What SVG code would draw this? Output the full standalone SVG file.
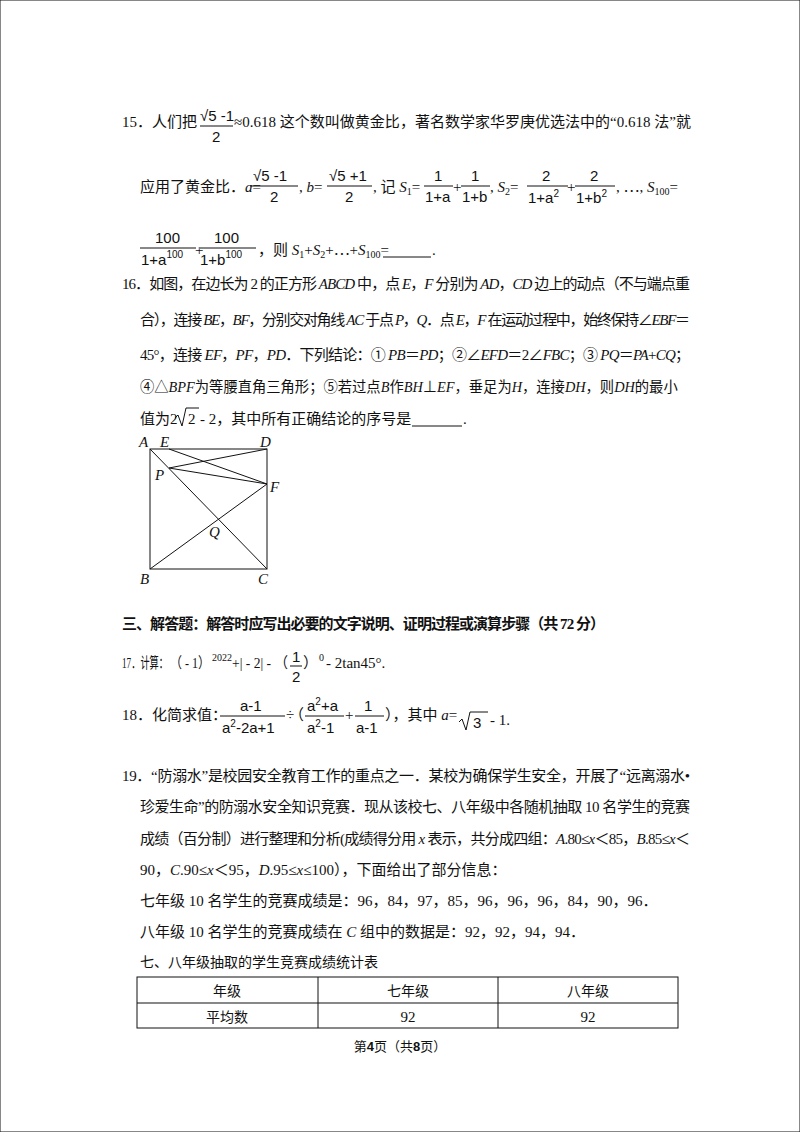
<svg xmlns="http://www.w3.org/2000/svg" width="800" height="1132" viewBox="0 0 800 1132">
<style>
text{font-family:"Liberation Serif","Noto Sans CJK SC",serif;font-size:15px;fill:#111}
.s{font-family:"Liberation Sans","Noto Sans CJK SC",sans-serif}
.i{font-style:italic}
.b{font-weight:bold}
.m{font-family:"Liberation Sans",sans-serif;font-size:15px}
.sm{font-size:10px}
.t14{font-size:14px}
.t13{font-size:13px}
line,path,rect{stroke:#111;stroke-width:1;fill:none}
</style>
<rect x="0" y="0" width="800" height="1132" fill="#fff" stroke="none"/>
<g id="q15">
<text x="122" y="127">15．人们把</text>
<text class="m" x="200" y="121">√5 -1</text><line x1="200" y1="126" x2="233" y2="126"/><text class="m" x="212" y="142">2</text>
<text x="234" y="127" textLength="457" lengthAdjust="spacing">≈0.618 这个数叫做黄金比，著名数学家华罗庚优选法中的“0.618 法”就</text>
<text x="140" y="192">应用了黄金比．<tspan class="i">a</tspan>=</text>
<text class="m" x="253" y="181">√5 -1</text><line x1="250" y1="186" x2="298" y2="186"/><text class="m" x="270" y="202">2</text>
<text x="299" y="192">, <tspan class="i">b</tspan>=</text>
<text class="m" x="329" y="181">√5 +1</text><line x1="327" y1="186" x2="372" y2="186"/><text class="m" x="345" y="202">2</text>
<text x="373" y="192">, 记 <tspan class="i">S</tspan><tspan class="sm" dy="3">1</tspan><tspan dy="-3">=</tspan></text>
<text class="m" x="434" y="181">1</text><line x1="424" y1="186" x2="453" y2="186"/><text class="m" x="425" y="202">1+a</text>
<text x="453" y="192">+</text>
<text class="m" x="471" y="181">1</text><line x1="461" y1="186" x2="490" y2="186"/><text class="m" x="462" y="202">1+b</text>
<text x="490" y="192">, <tspan class="i">S</tspan><tspan class="sm" dy="3">2</tspan><tspan dy="-3">=</tspan></text>
<text class="m" x="542" y="181">2</text><line x1="527" y1="186" x2="568" y2="186"/><text class="m" x="528" y="203">1+a<tspan class="sm" dy="-6">2</tspan></text>
<text x="567" y="192">+</text>
<text class="m" x="590" y="181">2</text><line x1="575" y1="186" x2="615" y2="186"/><text class="m" x="576" y="203">1+b<tspan class="sm" dy="-6">2</tspan></text>
<text x="616" y="192">, ⋯, <tspan class="i">S</tspan><tspan class="sm" dy="3">100</tspan><tspan dy="-3">=</tspan></text>
<text class="m" x="155" y="243">100</text><line x1="140" y1="248" x2="196" y2="248"/><text class="m" x="141" y="265">1+a<tspan class="sm" dy="-7">100</tspan></text>
<text x="195" y="255">+</text>
<text class="m" x="214" y="243">100</text><line x1="200" y1="248" x2="256" y2="248"/><text class="m" x="200" y="265">1+b<tspan class="sm" dy="-7">100</tspan></text>
<text x="258" y="255">，则 <tspan class="i">S</tspan><tspan class="sm" dy="3">1</tspan><tspan dy="-3">+</tspan><tspan class="i">S</tspan><tspan class="sm" dy="3">2</tspan><tspan dy="-3">+⋯+</tspan><tspan class="i">S</tspan><tspan class="sm" dy="3">100</tspan><tspan dy="-3">=</tspan></text>
<line x1="383" y1="257" x2="431" y2="257"/><text x="432" y="255">.</text>
</g>
<g id="q16">
<text x="122" y="289" textLength="568" lengthAdjust="spacing">16．如图，在边长为 2 的正方形 <tspan class="i">ABCD</tspan> 中，点 <tspan class="i">E</tspan>，<tspan class="i">F</tspan> 分别为 <tspan class="i">AD</tspan>，<tspan class="i">CD</tspan> 边上的动点（不与端点重</text>
<text x="140" y="325" textLength="550" lengthAdjust="spacing">合），连接 <tspan class="i">BE</tspan>，<tspan class="i">BF</tspan>，分别交对角线 <tspan class="i">AC</tspan> 于点 <tspan class="i">P</tspan>，<tspan class="i">Q</tspan>．点 <tspan class="i">E</tspan>，<tspan class="i">F</tspan> 在运动过程中，始终保持∠<tspan class="i">EBF</tspan>＝</text>
<text x="140" y="360" textLength="550" lengthAdjust="spacing">45°，连接 <tspan class="i">EF</tspan>，<tspan class="i">PF</tspan>，<tspan class="i">PD</tspan>．下列结论：① <tspan class="i">PB</tspan>＝<tspan class="i">PD</tspan>；②∠<tspan class="i">EFD</tspan>＝2∠<tspan class="i">FBC</tspan>；③ <tspan class="i">PQ</tspan>＝<tspan class="i">PA</tspan>+<tspan class="i">CQ</tspan>；</text>
<text x="140" y="392" style="font-size:14.3px">④△<tspan class="i">BPF</tspan>为等腰直角三角形；⑤若过点<tspan class="i">B</tspan>作<tspan class="i">BH</tspan>⊥<tspan class="i">EF</tspan>，垂足为<tspan class="i">H</tspan>，连接<tspan class="i">DH</tspan>，则<tspan class="i">DH</tspan>的最小</text>
<text x="140" y="424">值为2</text>
<path d="M175 418 L178 415 L182 426 L186 408 L199 408"/>
<text x="188" y="424">2</text>
<text x="200" y="424"> - 2，其中所有正确结论的序号是</text>
<line x1="412" y1="426" x2="462" y2="426"/><text x="463" y="424">.</text>
</g>
<g id="figure">
<rect x="150" y="449" width="117" height="120"/>
<line x1="150" y1="449" x2="267" y2="569"/>
<line x1="169" y1="449" x2="267" y2="484"/>
<line x1="169" y1="468" x2="267" y2="449"/>
<line x1="169" y1="468" x2="267" y2="484"/>
<line x1="150" y1="569" x2="267" y2="484"/>
<g class="i"><text x="139" y="447">A</text><text x="160" y="447">E</text><text x="260" y="447">D</text><text x="155" y="480">P</text><text x="270" y="492">F</text><text x="209" y="537">Q</text><text x="140" y="584">B</text><text x="258" y="584">C</text></g>
</g>
<g id="q17">
<text x="122" y="629" class="b" textLength="483" lengthAdjust="spacing">三、解答题：解答时应写出必要的文字说明、证明过程或演算步骤（共 72 分）</text>
<text x="122" y="668" textLength="46" lengthAdjust="spacingAndGlyphs">17．计算：</text>
<text x="170" y="668" textLength="40" lengthAdjust="spacingAndGlyphs">（ - 1）</text>
<text x="212" y="661" class="sm">2022</text>
<text x="232" y="668" textLength="56" lengthAdjust="spacingAndGlyphs">+| - 2| - （</text>
<text class="m" x="292" y="662">1</text><line x1="290" y1="666" x2="302" y2="666"/><text class="m" x="292" y="682">2</text>
<text x="303" y="668">）</text>
<text x="319" y="661" class="sm">0</text>
<text x="326" y="668"> - 2tan45°.</text>
</g>
<g id="q18">
<text x="122" y="720">18．化简求值：</text>
<text class="m" x="240" y="711">a-1</text><line x1="220" y1="716" x2="285" y2="716"/><text class="m" x="222" y="733">a<tspan class="sm" dy="-6">2</tspan><tspan dy="6">-2a+1</tspan></text>
<text x="286" y="720">÷</text><text x="289" y="720">（</text>
<text class="m" x="307" y="711">a<tspan class="sm" dy="-6">2</tspan><tspan dy="6">+a</tspan></text><line x1="305" y1="716" x2="344" y2="716"/><text class="m" x="307" y="733">a<tspan class="sm" dy="-6">2</tspan><tspan dy="6">-1</tspan></text>
<text x="345" y="720">+</text>
<text class="m" x="364" y="711">1</text><line x1="355" y1="716" x2="384" y2="716"/><text class="m" x="356" y="733">a-1</text>
<text x="385" y="720">），其中 <tspan class="i">a</tspan>=</text>
<path d="M459 722 L462 719 L466 730 L470 712 L488 712"/>
<text class="m" x="473" y="728">3</text>
<text x="490" y="725"> - 1.</text>
</g>
<g id="q19">
<text x="122" y="781" textLength="568" lengthAdjust="spacing">19．“防溺水”是校园安全教育工作的重点之一．某校为确保学生安全，开展了“远离溺水•</text>
<text x="140" y="812" textLength="550" lengthAdjust="spacing">珍爱生命”的防溺水安全知识竞赛．现从该校七、八年级中各随机抽取 10 名学生的竞赛</text>
<text x="140" y="844" textLength="550" lengthAdjust="spacing">成绩（百分制）进行整理和分析(成绩得分用 <tspan class="i">x</tspan> 表示，共分成四组：<tspan class="i">A</tspan>.80≤<tspan class="i">x</tspan>＜85，<tspan class="i">B</tspan>.85≤<tspan class="i">x</tspan>＜</text>
<text x="140" y="875">90，<tspan class="i">C</tspan>.90≤<tspan class="i">x</tspan>＜95，<tspan class="i">D</tspan>.95≤<tspan class="i">x</tspan>≤100），下面给出了部分信息：</text>
<text x="140" y="906">七年级 10 名学生的竞赛成绩是：96，84，97，85，96，96，96，84，90，96．</text>
<text x="140" y="937">八年级 10 名学生的竞赛成绩在 <tspan class="i">C</tspan> 组中的数据是：92，92，94，94．</text>
<text x="140" y="967" class="s t14">七、八年级抽取的学生竞赛成绩统计表</text>
</g>
<g id="table">
<rect x="137" y="977" width="541" height="51"/>
<line x1="137" y1="1003" x2="678" y2="1003"/>
<line x1="318" y1="977" x2="318" y2="1028"/>
<line x1="498" y1="977" x2="498" y2="1028"/>
<text x="227" y="996" text-anchor="middle" class="s t14">年级</text>
<text x="408" y="996" text-anchor="middle" class="s t14">七年级</text>
<text x="588" y="996" text-anchor="middle" class="s t14">八年级</text>
<text x="227" y="1022" text-anchor="middle" class="s t14">平均数</text>
<text x="408" y="1022" text-anchor="middle">92</text>
<text x="588" y="1022" text-anchor="middle">92</text>
</g>
<text x="400" y="1051" text-anchor="middle" class="s t13">第<tspan class="b">4</tspan>页（共<tspan class="b">8</tspan>页）</text>
</svg>
